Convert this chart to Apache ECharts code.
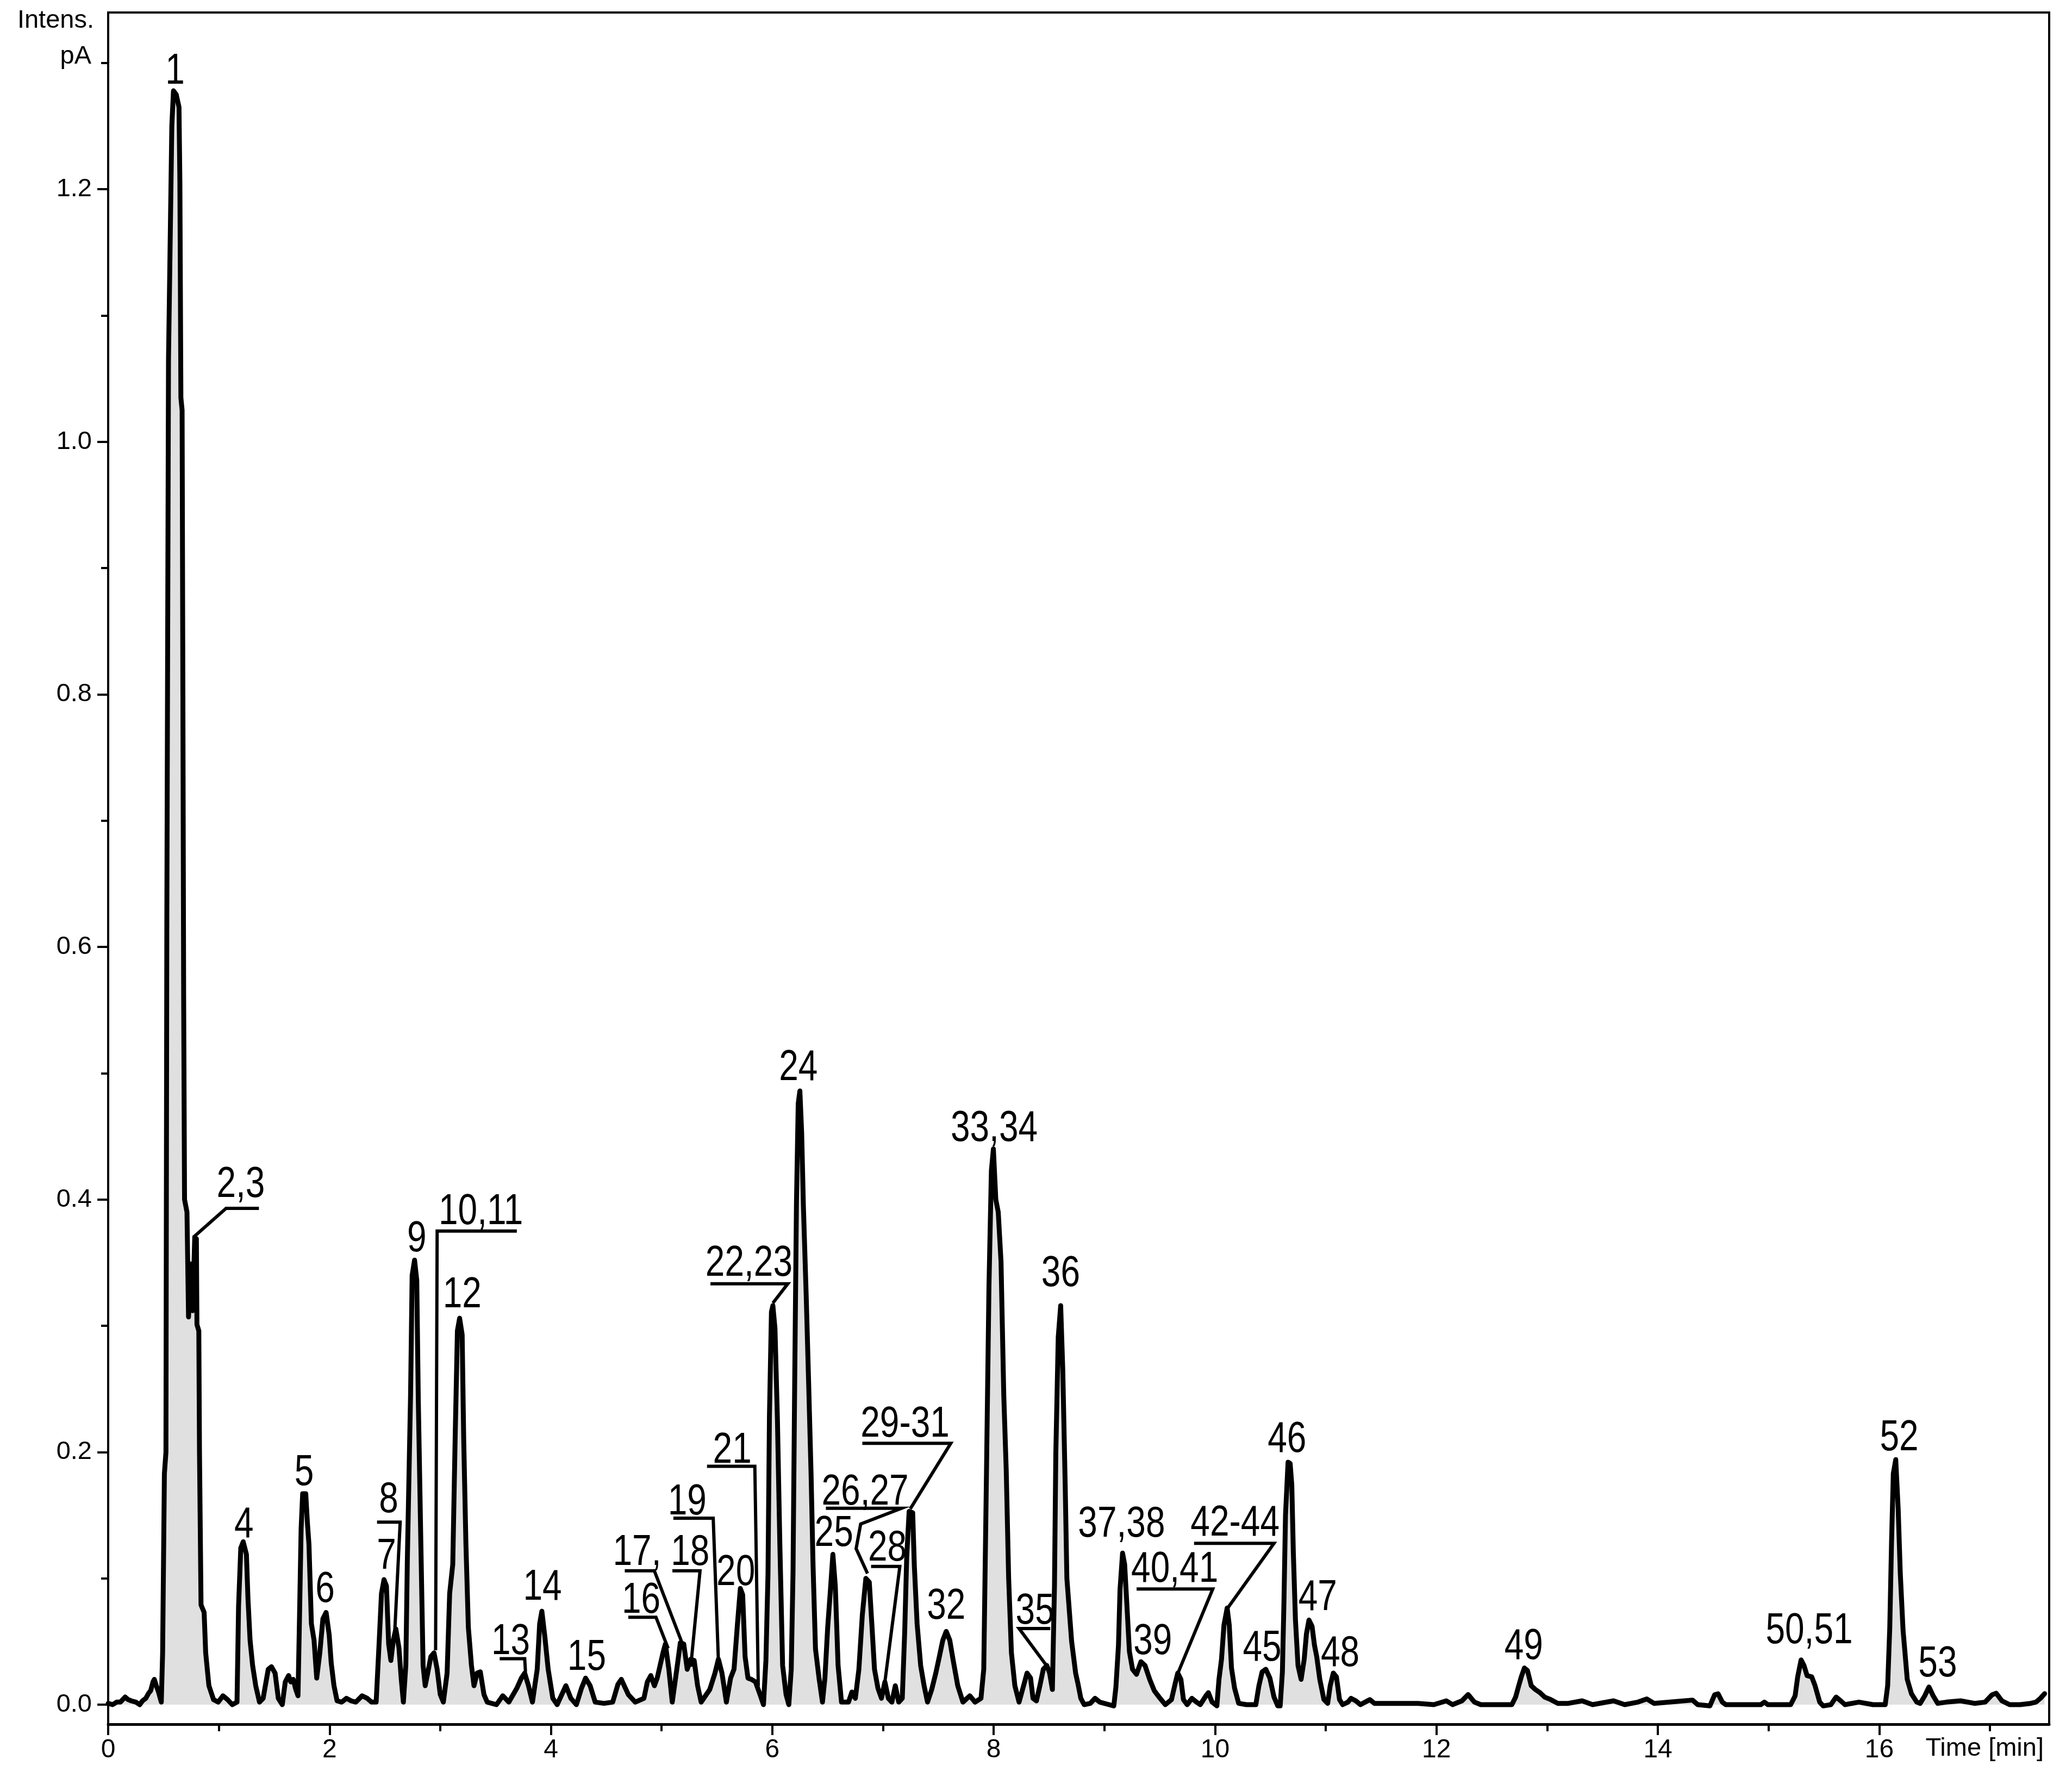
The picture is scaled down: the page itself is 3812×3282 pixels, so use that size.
<!DOCTYPE html>
<html>
<head>
<meta charset="utf-8">
<script src="https://cdn.jsdelivr.net/npm/echarts@6.0.0/dist/echarts.min.js"></script>
<style>
html,body{margin:0;padding:0;background:#fff;}
#chart{width:3812px;height:3282px;}
</style>
</head>
<body>
<div id="chart"></div>
<script>
// ---- Data (time in min, intensity in pA) ----
var timeMin = [
0.00,0.04,0.077,0.11,0.153,0.18,0.208,0.25,0.285,0.31,0.34,0.365,0.384,0.405,0.417,0.435,0.455,0.48,0.492,0.508,0.522,0.530,0.545,0.575,0.590,0.615,0.640,0.648,0.657,0.668,0.675,0.682,0.690,0.712,0.726,0.746,0.763,0.782,0.797,0.802,0.819,0.825,0.839,0.867,0.881,0.91,0.952,0.994,1.037,1.079,1.121,1.164,1.178,1.198,1.22,1.249,1.263,1.282,1.305,1.333,1.367,1.40,1.446,1.475,1.508,1.537,1.573,1.60,1.63,1.65,1.672,1.695,1.715,1.729,1.743,1.757,1.785,1.80,1.814,1.836,1.86,1.884,1.912,1.94,1.969,1.997,2.015,2.04,2.068,2.11,2.153,2.195,2.237,2.294,2.34,2.379,2.421,2.449,2.469,2.492,2.514,2.534,2.554,2.576,2.599,2.627,2.647,2.667,2.689,2.703,2.732,2.746,2.768,2.788,2.802,2.825,2.845,2.864,2.887,2.915,2.944,2.972,3.00,3.028,3.062,3.085,3.113,3.136,3.155,3.175,3.198,3.212,3.232,3.254,3.282,3.305,3.333,3.362,3.395,3.424,3.508,3.565,3.62,3.692,3.733,3.763,3.797,3.833,3.876,3.898,3.918,3.946,3.975,4.017,4.056,4.135,4.18,4.23,4.276,4.313,4.354,4.40,4.48,4.558,4.605,4.636,4.699,4.761,4.84,4.871,4.902,4.935,4.96,5.012,5.034,5.065,5.096,5.137,5.169,5.20,5.231,5.263,5.294,5.325,5.357,5.435,5.482,5.513,5.545,5.585,5.623,5.654,5.685,5.711,5.732,5.754,5.78,5.811,5.848,5.889,5.92,5.942,5.961,5.974,5.992,6.005,6.024,6.046,6.068,6.093,6.124,6.149,6.171,6.187,6.202,6.218,6.234,6.249,6.265,6.281,6.306,6.328,6.35,6.368,6.39,6.422,6.453,6.475,6.50,6.525,6.547,6.569,6.594,6.625,6.688,6.719,6.75,6.782,6.813,6.845,6.876,6.901,6.923,6.954,6.986,7.017,7.048,7.08,7.111,7.142,7.174,7.196,7.214,7.236,7.268,7.283,7.308,7.34,7.371,7.402,7.44,7.477,7.509,7.54,7.571,7.603,7.634,7.675,7.722,7.784,7.831,7.885,7.91,7.935,7.957,7.979,7.997,8.019,8.041,8.066,8.091,8.113,8.135,8.16,8.191,8.229,8.27,8.301,8.333,8.355,8.386,8.417,8.448,8.48,8.505,8.53,8.549,8.561,8.583,8.605,8.624,8.646,8.661,8.704,8.74,8.76,8.787,8.817,8.873,8.915,8.958,9.042,9.085,9.104,9.127,9.141,9.164,9.183,9.20,9.226,9.254,9.29,9.33,9.367,9.409,9.451,9.494,9.55,9.606,9.64,9.663,9.691,9.714,9.748,9.79,9.832,9.866,9.917,9.939,9.973,10.016,10.035,10.058,10.08,10.109,10.128,10.148,10.176,10.213,10.283,10.368,10.396,10.425,10.458,10.495,10.532,10.566,10.588,10.608,10.622,10.636,10.659,10.678,10.693,10.707,10.726,10.749,10.777,10.805,10.825,10.848,10.876,10.898,10.918,10.946,10.983,11.017,11.04,11.068,11.096,11.124,11.152,11.20,11.228,11.271,11.313,11.398,11.44,11.553,11.694,11.835,11.976,12.089,12.145,12.23,12.286,12.343,12.40,12.54,12.681,12.715,12.743,12.766,12.794,12.822,12.856,12.893,12.935,12.977,13.032,13.095,13.19,13.316,13.41,13.60,13.70,13.82,13.90,13.965,14.108,14.313,14.36,14.47,14.513,14.544,14.582,14.614,14.93,14.962,14.994,15.20,15.24,15.263,15.294,15.32,15.348,15.39,15.42,15.462,15.494,15.563,15.61,15.652,15.69,15.816,15.943,16.054,16.076,16.095,16.111,16.127,16.149,16.171,16.19,16.215,16.253,16.291,16.339,16.37,16.411,16.449,16.487,16.528,16.608,16.734,16.861,16.956,17.019,17.057,17.108,17.177,17.272,17.367,17.415,17.456,17.494
];
var intensityPA = [
0.001,0.000,0.002,0.002,0.006,0.004,0.003,0.002,0.000,0.003,0.005,0.009,0.011,0.018,0.020,0.015,0.010,0.002,0.041,0.183,0.200,0.620,1.065,1.250,1.278,1.275,1.265,1.205,1.035,1.025,0.800,0.560,0.400,0.390,0.307,0.349,0.312,0.370,0.369,0.301,0.296,0.200,0.079,0.073,0.041,0.015,0.004,0.002,0.007,0.004,0.000,0.002,0.078,0.124,0.129,0.119,0.084,0.051,0.031,0.015,0.002,0.005,0.028,0.030,0.025,0.005,0.000,0.018,0.023,0.018,0.020,0.012,0.007,0.071,0.139,0.167,0.167,0.144,0.127,0.064,0.051,0.021,0.041,0.068,0.073,0.055,0.033,0.015,0.003,0.002,0.005,0.003,0.002,0.007,0.005,0.002,0.002,0.051,0.088,0.099,0.094,0.048,0.035,0.051,0.060,0.045,0.021,0.002,0.031,0.116,0.246,0.340,0.352,0.336,0.240,0.127,0.031,0.015,0.025,0.038,0.041,0.028,0.008,0.002,0.025,0.088,0.111,0.217,0.296,0.306,0.293,0.210,0.127,0.061,0.031,0.015,0.025,0.026,0.008,0.002,0.000,0.007,0.002,0.013,0.021,0.025,0.015,0.002,0.028,0.064,0.074,0.053,0.028,0.005,0.000,0.015,0.005,0.000,0.013,0.021,0.015,0.002,0.001,0.002,0.016,0.020,0.008,0.002,0.005,0.018,0.023,0.015,0.021,0.041,0.048,0.028,0.002,0.028,0.049,0.048,0.028,0.036,0.035,0.015,0.002,0.012,0.025,0.036,0.025,0.002,0.021,0.028,0.064,0.092,0.087,0.038,0.021,0.020,0.018,0.008,0.000,0.035,0.104,0.229,0.311,0.316,0.298,0.226,0.127,0.031,0.008,0.000,0.028,0.105,0.255,0.397,0.476,0.486,0.453,0.394,0.324,0.255,0.183,0.110,0.044,0.021,0.002,0.021,0.061,0.091,0.119,0.094,0.031,0.002,0.002,0.010,0.005,0.028,0.071,0.100,0.097,0.061,0.028,0.013,0.005,0.018,0.005,0.002,0.015,0.002,0.005,0.058,0.117,0.153,0.152,0.110,0.064,0.031,0.015,0.002,0.012,0.025,0.038,0.051,0.058,0.051,0.035,0.015,0.002,0.007,0.002,0.005,0.028,0.186,0.331,0.423,0.440,0.400,0.390,0.351,0.245,0.186,0.100,0.041,0.015,0.002,0.015,0.025,0.021,0.005,0.003,0.015,0.028,0.031,0.025,0.012,0.094,0.199,0.291,0.316,0.265,0.173,0.100,0.050,0.025,0.017,0.005,0.000,0.001,0.005,0.002,0.000,-0.001,0.014,0.047,0.091,0.120,0.111,0.084,0.042,0.028,0.024,0.034,0.031,0.020,0.011,0.006,0.000,0.004,0.017,0.025,0.020,0.004,0.000,0.005,0.002,0.000,0.007,0.0095,0.002,-0.001,0.020,0.036,0.063,0.0765,0.063,0.029,0.013,0.001,0.000,0.000,0.015,0.026,0.028,0.021,0.006,-0.001,-0.001,0.026,0.081,0.150,0.192,0.191,0.174,0.120,0.067,0.031,0.020,0.036,0.056,0.067,0.062,0.047,0.038,0.020,0.004,0.001,0.015,0.025,0.022,0.004,0.000,0.002,0.005,0.003,0.000,0.004,0.001,0.001,0.001,0.001,0.000,0.003,0.000,0.003,0.008,0.002,0.000,0.000,0.000,0.006,0.015,0.022,0.029,0.027,0.015,0.012,0.0095,0.006,0.004,0.001,0.001,0.003,0.000,0.003,0.000,0.002,0.0045,0.001,0.002,0.0036,0.000,-0.001,0.0078,0.0086,0.002,0.000,0.000,0.002,0.000,0.000,0.007,0.022,0.0354,0.031,0.023,0.022,0.015,0.002,-0.001,0.000,0.006,0.003,0.000,0.002,0.000,0.000,0.015,0.061,0.129,0.183,0.194,0.155,0.104,0.059,0.020,0.0086,0.002,0.001,0.007,0.014,0.007,0.001,0.002,0.003,0.001,0.002,0.0078,0.009,0.003,0.000,0.000,0.001,0.002,0.005,0.0087
];

// Peak labels: text, time of label centre, intensity of label centre
var peakLabelText = ["1","2,3","4","5","6","7","8","9","10,11","12","13","14","15","16","17, 18","19","20","21","22,23","24","25","26,27","28","29-31","32","33,34","35","36","37,38","39","40,41","42-44","45","46","47","48","49","50,51","52","53"];
var peakLabelTime = [0.604,1.198,1.226,1.771,1.960,2.514,2.534,2.788,3.367,3.198,3.636,3.924,4.323,4.815,4.996,5.231,5.670,5.638,5.789,6.235,6.556,6.838,7.039,7.199,7.571,8.004,8.373,8.605,9.155,9.437,9.635,10.18,10.425,10.650,10.927,11.13,12.788,15.367,16.18,16.528];
var peakLabelPA = [1.293,0.4116,0.142,0.1835,0.091,0.117,0.162,0.3686,0.390,0.324,0.0496,0.0926,0.0372,0.0823,0.120,0.160,0.104,0.201,0.349,0.504,0.135,0.168,0.1235,0.2217,0.0774,0.456,0.0735,0.341,0.1425,0.0497,0.1068,0.1434,0.0444,0.2097,0.0845,0.040,0.0456,0.058,0.211,0.0318];

// Leader lines (polylines, [time, pA])
var leaderLines = [
  [[1.362,0.393],[1.065,0.393],[0.768,0.370]],
  [[2.429,0.1445],[2.638,0.1445],[2.590,0.0595]],
  [[3.692,0.375],[2.972,0.375],[2.958,0.043]],
  [[3.537,0.0364],[3.763,0.0364],[3.77,0.026]],
  [[4.699,0.0692],[4.949,0.0692],[5.059,0.0445]],
  [[4.667,0.106],[4.934,0.106],[5.184,0.049]],
  [[5.097,0.106],[5.347,0.106],[5.263,0.030]],
  [[5.106,0.1476],[5.466,0.1476],[5.513,0.0346]],
  [[5.410,0.1887],[5.842,0.1887],[5.873,0.0148]],
  [[5.441,0.3333],[6.140,0.3333],[6.005,0.318]],
  [[6.484,0.1555],[7.167,0.1555],[6.798,0.143],[6.757,0.1235],[6.860,0.1038]],
  [[6.892,0.1094],[7.152,0.1094],[7.017,0.018]],
  [[6.813,0.2069],[7.612,0.2069],[7.246,0.155]],
  [[8.511,0.0603],[8.229,0.0603],[8.474,0.0313]],
  [[9.291,0.0916],[9.979,0.0916],[9.663,0.0247]],
  [[9.810,0.1277],[10.532,0.1277],[10.114,0.0765]]
];

var yMajorTicks = [0.0,0.2,0.4,0.6,0.8,1.0,1.2];
var yMinorTicks = [0.1,0.3,0.5,0.7,0.9,1.1,1.3];
var xMajorTicks = [0,2,4,6,8,10,12,14,16];
var xMinorTicks = [1,3,5,7,9,11,13,15,17];

var X_MIN = 0, X_MAX = 17.535, Y_MIN = -0.0155, Y_MAX = 1.340;

var chart = echarts.init(document.getElementById('chart'), null, {renderer:'canvas'});
var FONT = "'Liberation Sans', Arial, sans-serif";
var LABEL_FONT = "'Liberation Sans', Arial, sans-serif";

var traceData = timeMin.map(function(t,i){ return [t, intensityPA[i]]; });
var labelData = peakLabelTime.map(function(t,i){ return [t, peakLabelPA[i]]; });

var option = {
  animation:false,
  backgroundColor:'#fff',
  grid:{left:199, top:23, right:3812-3770, bottom:3282-3172, show:true, borderColor:'#000', borderWidth:4, backgroundColor:'transparent'},
  xAxis:[{
    type:'value', min:X_MIN, max:X_MAX, position:'bottom',
    axisLine:{show:true, onZero:false, lineStyle:{color:'#000', width:5}},
    axisTick:{show:true, length:20, lineStyle:{color:'#000', width:4}, customValues:xMajorTicks},
    axisLabel:{show:true, customValues:xMajorTicks, color:'#000', fontFamily:FONT, fontSize:48, margin:24},
    splitLine:{show:false}
  },{
    type:'value', min:X_MIN, max:X_MAX, position:'bottom', gridIndex:0,
    axisLine:{show:false, onZero:false},
    axisTick:{show:true, length:13, lineStyle:{color:'#000', width:4}, customValues:xMinorTicks},
    axisLabel:{show:false},
    splitLine:{show:false}
  }],
  yAxis:[{
    type:'value', min:Y_MIN, max:Y_MAX, position:'left',
    axisLine:{show:true, onZero:false, lineStyle:{color:'#000', width:4}},
    axisTick:{show:true, length:20, lineStyle:{color:'#000', width:4}, customValues:yMajorTicks},
    axisLabel:{show:true, customValues:yMajorTicks, color:'#000', fontFamily:FONT, fontSize:47, margin:30,
      formatter:function(v){ return Number(v).toFixed(1); }},
    splitLine:{show:false}
  },{
    type:'value', min:Y_MIN, max:Y_MAX, position:'left', gridIndex:0,
    axisLine:{show:false, onZero:false},
    axisTick:{show:true, length:13, lineStyle:{color:'#000', width:4}, customValues:yMinorTicks},
    axisLabel:{show:false},
    splitLine:{show:false}
  }],
  graphic:[
    {type:'text', x:173, y:62, style:{text:'Intens.', font:'47px '+FONT, fill:'#000', textAlign:'right', textVerticalAlign:'bottom'}},
    {type:'text', x:168, y:104, style:{text:'pA', font:'47px '+FONT, fill:'#000', textAlign:'right', textVerticalAlign:'middle'}},
    {type:'text', x:3760, y:3217, style:{text:'Time [min]', font:'47px '+FONT, fill:'#000', textAlign:'right', textVerticalAlign:'middle'}}
  ],
  series:[
    {
      type:'line', name:'trace', xAxisIndex:0, yAxisIndex:0, data:traceData,
      symbol:'none', smooth:false, clip:true,
      lineStyle:{color:'#000', width:9, join:'round', cap:'round'},
      areaStyle:{color:'#e0e0e0', opacity:1, origin:0},
      z:3
    },
    {
      type:'lines', coordinateSystem:'cartesian2d', xAxisIndex:0, yAxisIndex:0, polyline:true,
      data:leaderLines.map(function(c){ return {coords:c}; }),
      lineStyle:{color:'#000', width:6, opacity:1, join:'miter'},
      z:4
    },
    {
      type:'custom', xAxisIndex:0, yAxisIndex:0, data:labelData,
      renderItem:function(params, api){
        var p = api.coord([api.value(0), api.value(1)]);
        return {type:'text', x:p[0], y:p[1], scaleX:0.8, scaleY:1,
          style:{text:peakLabelText[params.dataIndex], font:'80px '+LABEL_FONT, fill:'#000', textAlign:'center', textVerticalAlign:'middle'}};
      },
      z:5
    }
  ]
};
chart.setOption(option);
</script>
</body>
</html>
